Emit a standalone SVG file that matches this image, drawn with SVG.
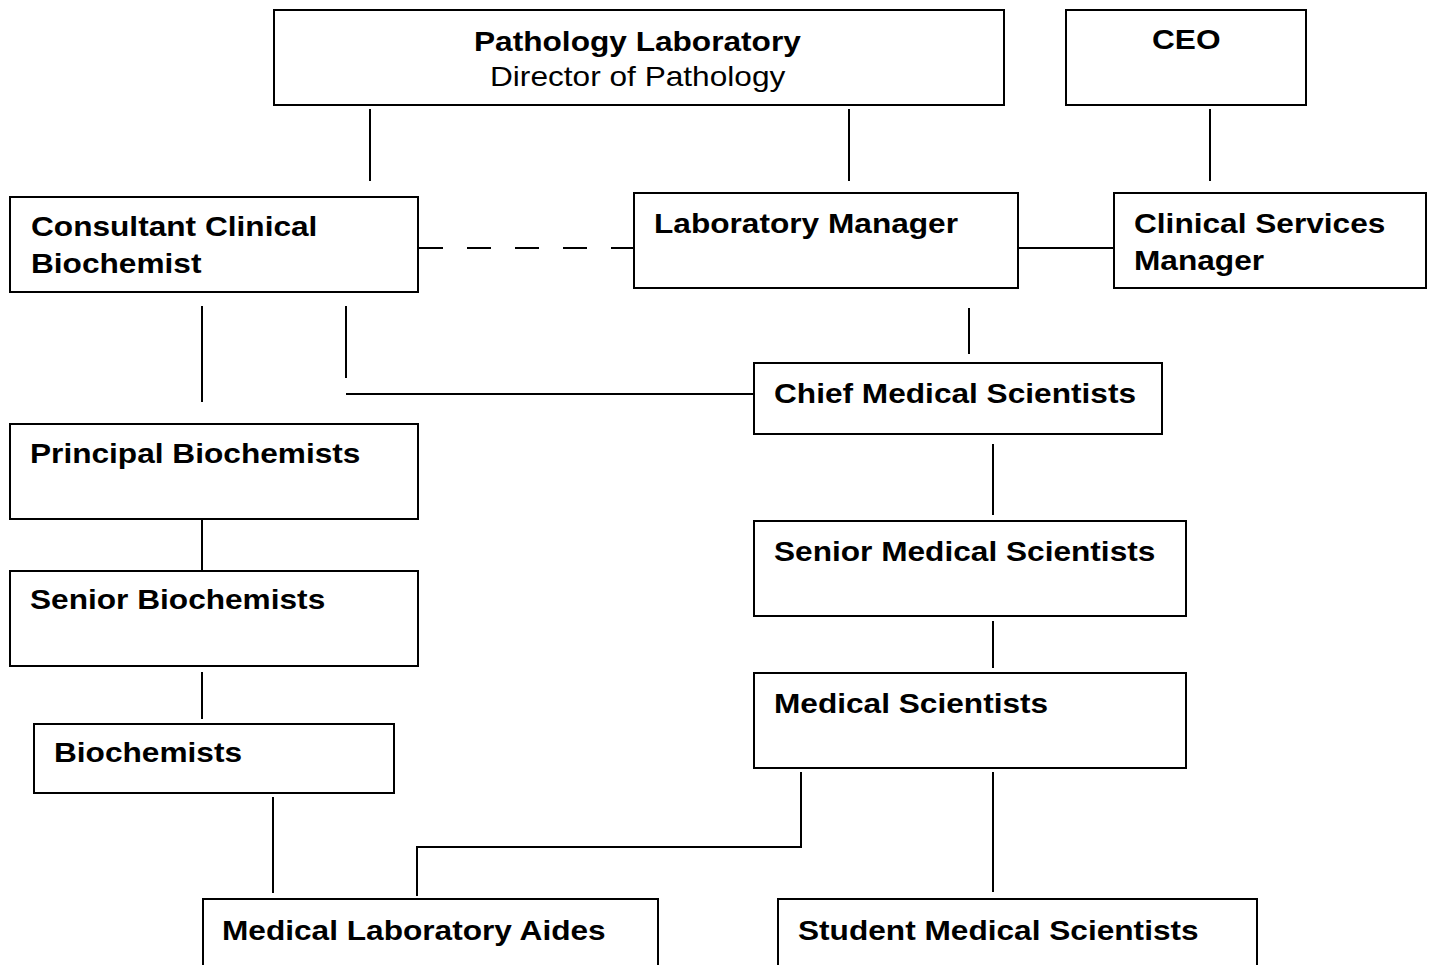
<svg xmlns="http://www.w3.org/2000/svg" width="1429" height="965" viewBox="0 0 1429 965">
<style>
  .box { fill: #fff; stroke: #000; stroke-width: 2; }
  .t { font-family: "Liberation Sans", Arial, sans-serif; font-size: 28px; font-weight: bold; fill: #000; }
  .r { font-weight: normal; }
  .c { fill: none; stroke: #000; stroke-width: 2; }
  .dash { stroke-dasharray: 24 24; }
</style>
<rect width="1429" height="965" fill="#fff"/>
<g id="connectors">
  <path class="c" d="M370 109 V181"/>
  <path class="c" d="M849 109 V181"/>
  <path class="c" d="M1210 109 V181"/>
  <path class="c dash" d="M419 248 H633"/>
  <path class="c" d="M1018 248 H1114"/>
  <path class="c" d="M202 306 V402"/>
  <path class="c" d="M346 306 V378"/>
  <path class="c" d="M346 394 H753"/>
  <path class="c" d="M969 308 V354"/>
  <path class="c" d="M993 444 V515"/>
  <path class="c" d="M993 621 V668"/>
  <path class="c" d="M202 519 V571"/>
  <path class="c" d="M202 672 V719"/>
  <path class="c" d="M273 797 V893"/>
  <path class="c" d="M801 772 V847 H417 V896"/>
  <path class="c" d="M993 772 V892"/>
</g>
<g id="pathology">
  <rect class="box" x="274" y="10" width="730" height="95"/>
  <text class="t" transform="matrix(1.13 0 0 1 474 51)">Pathology Laboratory</text>
  <text class="t r" transform="matrix(1.13 0 0 1 490 86)">Director of Pathology</text>
</g>
<g id="ceo">
  <rect class="box" x="1066" y="10" width="240" height="95"/>
  <text class="t" transform="matrix(1.13 0 0 1 1152 49)">CEO</text>
</g>
<g id="consultant">
  <rect class="box" x="10" y="197" width="408" height="95"/>
  <text class="t" transform="matrix(1.13 0 0 1 31 236)">Consultant Clinical</text>
  <text class="t" transform="matrix(1.13 0 0 1 31 273)">Biochemist</text>
</g>
<g id="lab-manager">
  <rect class="box" x="634" y="193" width="384" height="95"/>
  <text class="t" transform="matrix(1.13 0 0 1 654 233)">Laboratory Manager</text>
</g>
<g id="clinical-services-manager">
  <rect class="box" x="1114" y="193" width="312" height="95"/>
  <text class="t" transform="matrix(1.13 0 0 1 1134 233)">Clinical Services</text>
  <text class="t" transform="matrix(1.13 0 0 1 1134 270)">Manager</text>
</g>
<g id="principal-biochemists">
  <rect class="box" x="10" y="424" width="408" height="95"/>
  <text class="t" transform="matrix(1.13 0 0 1 30 463)">Principal Biochemists</text>
</g>
<g id="chief-medical-scientists">
  <rect class="box" x="754" y="363" width="408" height="71"/>
  <text class="t" transform="matrix(1.13 0 0 1 774 403)">Chief Medical Scientists</text>
</g>
<g id="senior-biochemists">
  <rect class="box" x="10" y="571" width="408" height="95"/>
  <text class="t" transform="matrix(1.13 0 0 1 30 609)">Senior Biochemists</text>
</g>
<g id="senior-medical-scientists">
  <rect class="box" x="754" y="521" width="432" height="95"/>
  <text class="t" transform="matrix(1.13 0 0 1 774 561)">Senior Medical Scientists</text>
</g>
<g id="biochemists">
  <rect class="box" x="34" y="724" width="360" height="69"/>
  <text class="t" transform="matrix(1.13 0 0 1 54 762)">Biochemists</text>
</g>
<g id="medical-scientists">
  <rect class="box" x="754" y="673" width="432" height="95"/>
  <text class="t" transform="matrix(1.13 0 0 1 774 713)">Medical Scientists</text>
</g>
<g id="medical-laboratory-aides">
  <rect class="box" x="203" y="899" width="455" height="100"/>
  <text class="t" transform="matrix(1.13 0 0 1 222 940)">Medical Laboratory Aides</text>
</g>
<g id="student-medical-scientists">
  <rect class="box" x="778" y="899" width="479" height="100"/>
  <text class="t" transform="matrix(1.13 0 0 1 798 940)">Student Medical Scientists</text>
</g>
</svg>
